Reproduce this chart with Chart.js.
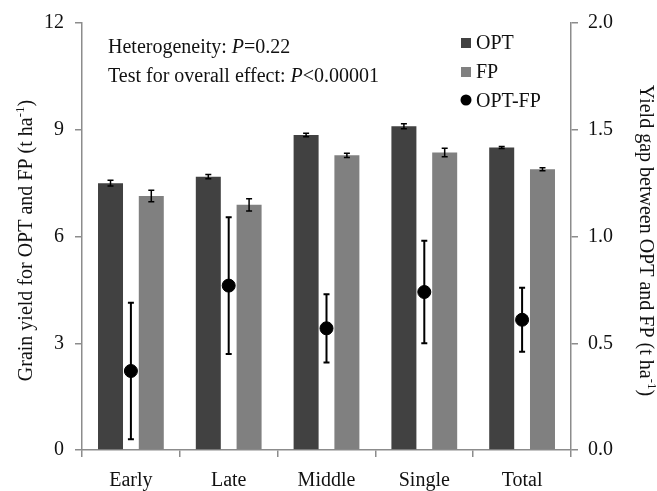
<!DOCTYPE html>
<html>
<head>
<meta charset="utf-8">
<script src="https://cdn.jsdelivr.net/npm/chart.js@4/dist/chart.umd.min.js"></script>
<style>
  html, body { margin: 0; padding: 0; background: #fff; }
  #wrap { width: 657px; height: 491px; }
</style>
</head>
<body>
<div id="wrap"><canvas id="chart" width="657" height="491"></canvas></div>
<script>
// groups along the x axis
const categories = ['Early', 'Late', 'Middle', 'Single', 'Total'];

// grain yield (t/ha), left axis
const optYield = [7.50, 7.68, 8.85, 9.10, 8.50];
const optErr = [0.08, 0.06, 0.05, 0.07, 0.03];
const fpYield = [7.14, 6.89, 8.28, 8.36, 7.89];
const fpErr = [0.16, 0.17, 0.06, 0.12, 0.04];

// yield gap OPT-FP (t/ha), right axis
const gap = [0.37, 0.77, 0.57, 0.74, 0.61];
const gapErr = [0.32, 0.32, 0.16, 0.24, 0.15];

const serif = '"Liberation Serif", "Times New Roman", serif';
const axisColor = '#8c8c8c';
const textColor = '#111';

function partFont(p) {
    return p.sup ? '13px ' + serif : (p.italic ? 'italic ' : '') + '20px ' + serif;
}

// text made of pieces: plain, italic or superscript
function drawParts(ctx, parts, x, y, align) {
    let w = 0;
    parts.forEach(p => {
        ctx.font = partFont(p);
        w += ctx.measureText(p.t).width;
    });
    let cx = align === 'center' ? x - w / 2 : x;
    ctx.textAlign = 'left';
    ctx.textBaseline = 'alphabetic';
    parts.forEach(p => {
        ctx.font = partFont(p);
        ctx.fillText(p.t, cx, p.sup ? y - 8 : y);
        cx += ctx.measureText(p.t).width;
    });
}

function errorBar(ctx, x, yTop, yBot, half, lw) {
    ctx.save();
    ctx.strokeStyle = '#000';
    ctx.lineWidth = lw;
    ctx.beginPath();
    ctx.moveTo(x, yTop); ctx.lineTo(x, yBot);
    ctx.moveTo(x - half, yTop); ctx.lineTo(x + half, yTop);
    ctx.moveTo(x - half, yBot); ctx.lineTo(x + half, yBot);
    ctx.stroke();
    ctx.restore();
}

const extras = {
    id: 'extras',
    beforeDatasetDraw(chart, args) {
        // whiskers of the gap points go under the dots
        if (args.index !== 2) return;
        const s = chart.scales.y1;
        chart.getDatasetMeta(2).data.forEach((pt, i) => {
            errorBar(chart.ctx, pt.x, s.getPixelForValue(gap[i] + gapErr[i]),
                s.getPixelForValue(gap[i] - gapErr[i]), 3, 2);
        });
    },
    afterDatasetDraw(chart, args) {
        if (args.index > 1) return;
        const vals = args.index === 0 ? optYield : fpYield;
        const errs = args.index === 0 ? optErr : fpErr;
        const s = chart.scales.y;
        chart.getDatasetMeta(args.index).data.forEach((bar, i) => {
            errorBar(chart.ctx, bar.x, s.getPixelForValue(vals[i] + errs[i]),
                s.getPixelForValue(vals[i] - errs[i]), 3, 1.5);
        });
    },
    afterDraw(chart) {
        const ctx = chart.ctx;
        const area = chart.chartArea;
        const midY = (area.top + area.bottom) / 2 + 4;
        ctx.save();
        ctx.fillStyle = textColor;

        // statistics note
        drawParts(ctx, [{t: 'Heterogeneity: '}, {t: 'P', italic: true}, {t: '=0.22'}], 108, 53);
        drawParts(ctx, [{t: 'Test for overall effect: '}, {t: 'P', italic: true}, {t: '<0.00001'}], 108, 82);

        // legend
        ctx.fillStyle = '#414141';
        ctx.fillRect(461, 38, 10, 10);
        ctx.fillStyle = '#808080';
        ctx.fillRect(461, 67, 10, 10);
        ctx.fillStyle = '#000';
        ctx.beginPath();
        ctx.arc(466, 100, 5.5, 0, Math.PI * 2);
        ctx.fill();
        ctx.fillStyle = textColor;
        drawParts(ctx, [{t: 'OPT'}], 476, 49);
        drawParts(ctx, [{t: 'FP'}], 476, 78);
        drawParts(ctx, [{t: 'OPT-FP'}], 476, 107);

        // left axis title
        ctx.save();
        ctx.translate(32, midY);
        ctx.rotate(-Math.PI / 2);
        drawParts(ctx, [{t: 'Grain yield for OPT and FP (t ha'}, {t: '-1', sup: true}, {t: ')'}], 0, 0, 'center');
        ctx.restore();

        // right axis title
        ctx.save();
        ctx.translate(640, midY);
        ctx.rotate(Math.PI / 2);
        drawParts(ctx, [{t: 'Yield gap between OPT and FP (t ha'}, {t: '-1', sup: true}, {t: ')'}], 0, 0, 'center');
        ctx.restore();

        ctx.restore();
    }
};

const tickFont = { family: serif, size: 20 };

new Chart(document.getElementById('chart'), {
    type: 'bar',
    data: {
        labels: categories,
        datasets: [
            {
                label: 'OPT',
                data: optYield,
                backgroundColor: '#414141',
                yAxisID: 'y',
                categoryPercentage: 0.834,
                barPercentage: 0.613,
                order: 2
            },
            {
                label: 'FP',
                data: fpYield,
                backgroundColor: '#808080',
                yAxisID: 'y',
                categoryPercentage: 0.834,
                barPercentage: 0.613,
                order: 2
            },
            {
                type: 'line',
                label: 'OPT-FP',
                data: gap,
                yAxisID: 'y1',
                showLine: false,
                pointRadius: 6.5,
                pointHoverRadius: 6.5,
                pointBackgroundColor: '#000',
                pointBorderColor: '#000',
                order: 1
            }
        ]
    },
    options: {
        responsive: false,
        animation: false,
        events: [],
        layout: { padding: { top: 23, left: 0, right: 0, bottom: 0 } },
        plugins: {
            legend: { display: false },
            tooltip: { enabled: false }
        },
        scales: {
            x: {
                offset: true,
                grid: {
                    offset: true,
                    drawOnChartArea: false,
                    drawTicks: true,
                    tickLength: 7,
                    color: axisColor,
                    lineWidth: 1.5
                },
                border: { color: axisColor, width: 1.5 },
                ticks: { font: tickFont, color: textColor, padding: 12 },
                afterFit: s => { s.height = 41; }
            },
            y: {
                position: 'left',
                min: 0,
                max: 12,
                ticks: { stepSize: 3, font: tickFont, color: textColor, padding: 11 },
                grid: {
                    drawOnChartArea: false,
                    tickLength: 7,
                    color: axisColor,
                    lineWidth: 1.5
                },
                border: { color: axisColor, width: 1.5 },
                afterFit: s => { s.width = 82; }
            },
            y1: {
                position: 'right',
                min: 0,
                max: 2,
                ticks: {
                    stepSize: 0.5,
                    font: tickFont,
                    color: textColor,
                    padding: 10,
                    callback: v => v.toFixed(1)
                },
                grid: {
                    drawOnChartArea: false,
                    tickLength: 7,
                    color: axisColor,
                    lineWidth: 1.5
                },
                border: { color: axisColor, width: 1.5 },
                afterFit: s => { s.width = 86; }
            }
        }
    },
    plugins: [extras]
});
</script>
</body>
</html>
